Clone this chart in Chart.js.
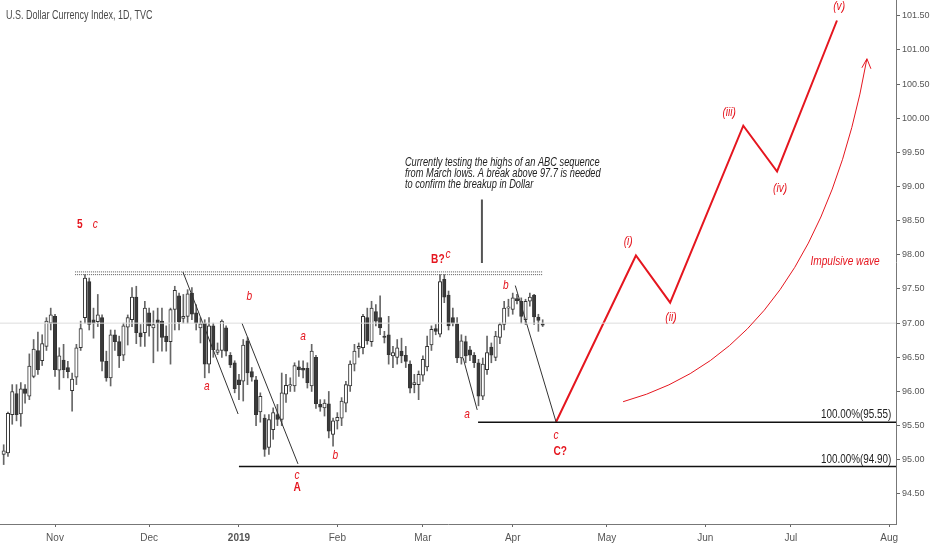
<!DOCTYPE html>
<html>
<head>
<meta charset="utf-8">
<script src="https://cdn.jsdelivr.net/npm/chart.js@4.4.1/dist/chart.umd.min.js"></script>
<style>
  html, body { margin: 0; padding: 0; background: #fff; }
  #wrap { width: 932px; height: 550px; position: relative; }
</style>
</head>
<body>
<div id="wrap"><canvas id="dxyChart"></canvas></div>
<script>
// daily candles, bar index 1 = 16 Oct 2018 (weekdays only)
const opens = [95.08,95.10,95.66,95.97,95.67,96.04,95.93,96.22,96.60,96.45,96.66,97.00,97.10,96.31,96.46,96.35,96.01,96.21,96.64,97.08,
  97.61,97.05,97.02,97.08,96.44,96.20,96.83,96.73,96.53,96.94,97.05,97.38,96.86,96.86,97.15,96.93,97.05,97.03,96.81,96.73,
  97.20,97.40,97.07,97.10,97.44,97.15,96.93,97.00,96.40,96.96,96.57,96.60,96.93,96.53,96.42,96.17,96.15,96.74,96.29,96.17,
  95.70,95.61,95.18,95.44,95.66,95.59,95.96,96.08,96.08,96.36,96.34,96.34,96.08,96.50,95.81,95.76,95.82,95.37,95.57,95.61,
  95.83,96.08,96.40,96.63,96.64,97.08,96.73,97.17,97.08,96.81,96.83,96.52,96.50,96.59,96.53,96.40,96.10,96.10,96.24,96.36,
  96.68,96.92,96.84,97.64,97.41,97.08,96.99,96.49,96.73,96.61,96.53,96.42,95.93,96.32,96.65,96.50,96.79,96.98,97.22,97.20,
  97.36,97.32,97.05,97.32,97.41,97.09,96.99];
const highs = [95.22,95.70,96.10,96.10,96.13,96.10,96.55,96.76,96.87,96.83,97.08,97.22,97.13,96.64,96.69,96.44,96.27,96.69,97.03,97.71,
  97.66,97.22,97.42,97.12,96.59,96.90,96.90,96.81,97.00,97.12,97.52,97.54,96.98,97.32,97.22,97.18,97.22,97.22,96.96,97.22,
  97.54,97.44,97.42,97.49,97.52,97.27,97.08,97.05,97.08,97.00,96.71,97.05,96.96,96.57,96.45,96.25,96.76,96.79,96.35,96.22,
  95.98,95.66,95.66,95.76,95.81,96.27,96.25,96.20,96.42,96.45,96.45,96.42,96.69,96.53,95.88,95.88,96.00,95.61,95.69,95.91,
  96.15,96.45,96.69,96.71,97.13,97.22,97.32,97.27,97.40,96.88,97.10,96.66,96.76,96.78,96.66,96.45,96.25,96.30,96.52,96.81,
  96.96,96.98,97.71,97.71,97.47,97.22,97.08,96.83,96.81,96.66,96.57,96.47,96.49,96.81,96.71,96.88,97.00,97.32,97.35,97.44,
  97.42,97.37,97.35,97.44,97.42,97.13,97.05];
const lows = [94.93,95.05,95.52,95.57,95.49,95.83,95.88,96.20,96.25,96.38,96.60,96.90,96.22,96.03,96.20,96.20,95.71,96.10,96.60,97.00,
  96.90,96.78,96.95,96.30,96.15,96.08,96.60,96.35,96.45,96.68,96.95,96.70,96.66,96.66,96.81,96.42,96.59,96.59,96.59,96.40,
  96.90,96.90,97.00,97.00,97.05,96.90,96.71,96.20,96.27,96.50,96.54,96.50,96.52,96.35,95.98,95.88,95.86,96.10,96.15,95.50,
  95.55,95.05,95.08,95.30,95.50,95.50,95.84,96.00,96.00,96.22,96.20,96.05,96.00,95.75,95.71,95.64,95.32,95.20,95.45,95.50,
  95.70,96.00,96.30,96.50,96.55,96.69,96.66,96.96,96.83,96.71,96.40,96.35,96.40,96.42,96.35,95.98,95.98,95.88,96.15,96.30,
  96.60,96.83,96.80,97.30,96.90,96.96,96.42,96.40,96.42,96.45,96.35,95.79,95.88,96.25,96.42,96.45,96.70,96.90,97.10,97.13,
  97.28,97.00,96.98,97.25,96.98,96.88,96.95];
const closes = [95.13,95.68,96.00,95.66,96.04,95.97,96.37,96.62,96.32,96.70,97.03,97.12,96.32,96.52,96.32,96.29,96.18,96.64,96.92,97.66,
  96.98,97.00,97.12,96.44,96.20,96.83,96.73,96.52,96.96,97.08,97.38,96.86,96.80,97.22,96.96,96.98,97.00,96.79,96.73,97.20,
  97.48,97.02,97.10,97.43,97.13,97.00,96.99,96.40,96.96,96.61,96.61,97.03,96.59,96.39,96.04,96.10,96.68,96.27,96.21,95.66,
  95.93,95.15,95.59,95.69,95.59,95.98,96.09,96.10,96.38,96.32,96.31,96.13,96.59,95.82,95.77,95.83,95.42,95.57,95.62,95.86,
  96.10,96.40,96.59,96.66,97.10,96.74,97.22,97.03,96.93,96.79,96.54,96.57,96.64,96.52,96.44,96.05,96.13,96.25,96.47,96.66,
  96.91,96.88,97.61,97.38,96.96,97.00,96.49,96.74,96.52,96.53,96.42,95.93,96.40,96.57,96.53,96.81,96.98,97.22,97.24,97.37,
  97.33,97.10,97.32,97.38,97.09,97.04,96.97];

// month ticks (bar index of first trading day) and their labels
const monthTicks = [13, 35, 56, 79, 99, 120, 142, 165, 185, 208];
const monthLabels = ['Nov', 'Dec', '2019', 'Feb', 'Mar', 'Apr', 'May', 'Jun', 'Jul', 'Aug'];
const priceTicks = [94.5, 95, 95.5, 96, 96.5, 97, 97.5, 98, 98.5, 99, 99.5, 100, 100.5, 101, 101.5];

// drawn wave counts (bar index, price)
const projX = [130.1, 148.8, 156.8, 173.9, 181.8, 195.8];
const projY = [95.55, 97.99, 97.30, 99.89, 99.22, 101.43];
const leftAX = [42.9, 55.8], leftAY = [97.75, 95.67];
const leftBX = [56.7, 69.8], leftBY = [97.00, 94.94];
const rightAX = [108.4, 111.7], rightAY = [96.49, 95.73];
const rightCX = [120.6, 130.1], rightCY = [97.55, 95.56];
const topBandX = [17.7, 127.1], topBandY = [97.75, 97.71];
const targetX = [56.0, 111.9], targetY = [94.90, 95.55];
const calloutX = 112.8, calloutY = [98.81, 97.88];
const curveX = [145.8, 190.7, 202.8], curveY = [95.85, 96.62, 100.87];

const xMin = 0.14, xMax = 209.6, yMin = 94.06, yMax = 101.73;

const RED = '#e5161f';
const FONT = "'Liberation Sans', 'DejaVu Sans', sans-serif";

// labels: [text, barIndex, price, style]
const waveLabels = [
  ['5', 18.8, 98.45, 'b'], ['c', 22.4, 98.45, 'i'],
  ['a', 48.5, 96.08, 'i'], ['b', 58.4, 97.39, 'i'], ['c', 69.6, 94.77, 'i'], ['A', 69.6, 94.60, 'b'],
  ['a', 71.0, 96.81, 'i'], ['b', 78.5, 95.07, 'i'],
  ['B?', 102.5, 97.94, 'b'], ['c', 104.9, 98.00, 'i'],
  ['a', 109.3, 95.66, 'i'], ['b', 118.4, 97.55, 'i'], ['c', 130.1, 95.35, 'i'], ['C?', 131.1, 95.12, 'b'],
  ['(i)', 147.0, 98.19, 'i'], ['(ii)', 157.0, 97.08, 'i'], ['(iii)', 170.6, 100.08, 'i'],
  ['(iv)', 182.5, 98.97, 'i'], ['(v)', 196.3, 101.63, 'i'], ['Impulsive wave', 197.7, 97.90, 'i']
];
const noteLines = ['Currently testing the highs of an ABC sequence',
  'from March lows. A break above 97.7 is needed',
  'to confirm the breakup in Dollar'];
const noteX = 94.8, noteY = [99.35, 99.19, 99.03];

function pts(xs, ys) {
  return xs.map((x, k) => ({ x: x, y: ys[k] }));
}
function lineSet(data, color, width, dash) {
  return {
    type: 'line', data: data, borderColor: color, borderWidth: width,
    borderDash: dash || [], pointRadius: 0, fill: false, tension: 0, order: 0
  };
}
// narrow text by squeezing the canvas horizontally
function squeezedText(ctx, text, x, y, sq) {
  ctx.save();
  ctx.translate(x, y);
  ctx.scale(sq, 1);
  ctx.fillText(text, 0, 0);
  ctx.restore();
}

let wicks = [], bodies = [], bodyColors = [];
for (let k = 0; k < opens.length; k++) {
  wicks.push({ x: k + 1, y: [lows[k], highs[k]] });
  bodies.push({ x: k + 1, y: [opens[k], closes[k]] });
  bodyColors.push(closes[k] >= opens[k] ? '#ffffff' : '#3a3a3a');
}

const annotate = {
  id: 'annotate',
  afterDatasetsDraw(chart) {
    const ctx = chart.ctx;
    const xs = chart.scales.x, ys = chart.scales.y;
    ctx.save();

    // impulsive wave arrow
    const p0 = [xs.getPixelForValue(curveX[0]), ys.getPixelForValue(curveY[0])];
    const p1 = [xs.getPixelForValue(curveX[1]), ys.getPixelForValue(curveY[1])];
    const p2 = [xs.getPixelForValue(curveX[2]), ys.getPixelForValue(curveY[2])];
    ctx.strokeStyle = RED;
    ctx.lineWidth = 1;
    ctx.beginPath();
    ctx.moveTo(p0[0], p0[1]);
    ctx.quadraticCurveTo(p1[0], p1[1], p2[0], p2[1]);
    ctx.stroke();
    ctx.beginPath();
    ctx.moveTo(p2[0] - 5, p2[1] + 9);
    ctx.lineTo(p2[0], p2[1]);
    ctx.lineTo(p2[0] + 4, p2[1] + 10);
    ctx.stroke();

    // wave labels
    ctx.fillStyle = RED;
    ctx.textAlign = 'center';
    ctx.textBaseline = 'middle';
    waveLabels.forEach(l => {
      ctx.font = l[3] === 'b' ? 'bold 13px ' + FONT : 'italic 13px ' + FONT;
      squeezedText(ctx, l[0], xs.getPixelForValue(l[1]), ys.getPixelForValue(l[2]), 0.78);
    });

    // note text
    ctx.fillStyle = '#222';
    ctx.textAlign = 'left';
    ctx.font = 'italic 12px ' + FONT;
    noteLines.forEach((t, k) => {
      squeezedText(ctx, t, xs.getPixelForValue(noteX), ys.getPixelForValue(noteY[k]), 0.77);
    });

    // target labels
    ctx.textAlign = 'right';
    ctx.textBaseline = 'bottom';
    ctx.font = '13px ' + FONT;
    targetY.forEach(v => {
      squeezedText(ctx, '100.00%(' + v.toFixed(2) + ')', xs.getPixelForValue(208.5), ys.getPixelForValue(v) - 1, 0.76);
    });

    // title
    ctx.fillStyle = '#4a4a4a';
    ctx.textAlign = 'left';
    ctx.textBaseline = 'middle';
    ctx.font = '12px ' + FONT;
    squeezedText(ctx, 'U.S. Dollar Currency Index, 1D, TVC', chart.chartArea.left + 6, chart.chartArea.top + 16, 0.75);
    ctx.restore();
  }
};

new Chart(document.getElementById('dxyChart'), {
  type: 'bar',
  data: {
    datasets: [
      lineSet(pts([xMin, xMax], [97.0, 97.0]), '#dddddd', 1),
      lineSet(pts(topBandX, [topBandY[0], topBandY[0]]), '#555555', 1, [1, 1]),
      lineSet(pts(topBandX, [topBandY[1], topBandY[1]]), '#555555', 1, [1, 1]),
      {
        type: 'bar', data: wicks, backgroundColor: '#666666', barThickness: 1,
        grouped: false, order: 3
      },
      {
        type: 'bar', data: bodies, backgroundColor: bodyColors, borderColor: '#333333',
        borderWidth: 1, borderSkipped: false, barThickness: 3.4, grouped: false, order: 2
      },
      lineSet(pts(leftAX, leftAY), '#333333', 1),
      lineSet(pts(leftBX, leftBY), '#333333', 1),
      lineSet(pts(rightAX, rightAY), '#333333', 1),
      lineSet(pts(rightCX, rightCY), '#333333', 1),
      lineSet(pts([targetX[0], xMax], [targetY[0], targetY[0]]), '#111111', 1.5),
      lineSet(pts([targetX[1], xMax], [targetY[1], targetY[1]]), '#111111', 1.5),
      lineSet(pts([calloutX, calloutX], calloutY), '#555555', 2),
      lineSet(pts(projX, projY), RED, 2)
    ]
  },
  options: {
    responsive: true,
    maintainAspectRatio: false,
    animation: false,
    layout: { padding: 0 },
    plugins: { legend: { display: false }, tooltip: { enabled: false } },
    scales: {
      x: {
        type: 'linear', min: xMin, max: xMax, offset: false,
        grid: { display: true, drawOnChartArea: false, drawTicks: true, tickLength: 3, color: '#666', offset: false },
        border: { color: '#777', width: 1 },
        afterBuildTicks: s => { s.ticks = monthTicks.map(v => ({ value: v })); },
        afterFit: s => { s.height = 26; s.paddingLeft = 0; s.paddingRight = 0; },
        ticks: {
          autoSkip: false, maxRotation: 0, padding: 5, color: '#555',
          font: c => ({ family: FONT, size: 10, weight: c.tick && c.tick.value === 56 ? 'bold' : 'normal' }),
          callback: v => monthLabels[monthTicks.indexOf(v)]
        }
      },
      y: {
        type: 'linear', position: 'right', min: yMin, max: yMax,
        grid: { display: true, drawOnChartArea: false, drawTicks: true, tickLength: 4, color: '#666' },
        border: { color: '#777', width: 1 },
        afterBuildTicks: s => { s.ticks = priceTicks.map(v => ({ value: v })); },
        afterFit: s => { s.width = 36; s.paddingTop = 0; s.paddingBottom = 0; },
        ticks: {
          padding: 2, color: '#555', font: { family: FONT, size: 9 },
          callback: v => v.toFixed(2)
        }
      }
    }
  },
  plugins: [annotate]
});
</script>
</body>
</html>
